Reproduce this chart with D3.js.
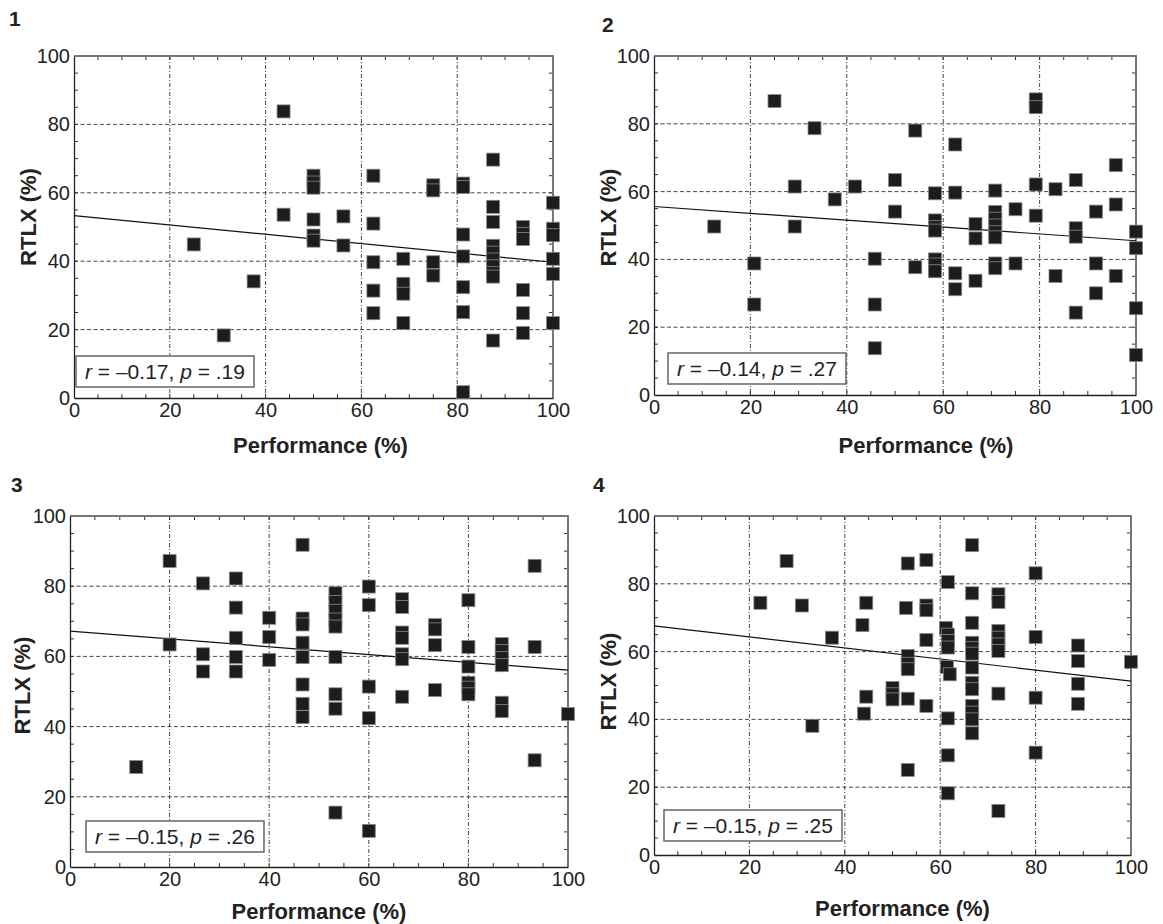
<!DOCTYPE html>
<html>
<head>
<meta charset="utf-8">
<script src="https://cdn.jsdelivr.net/npm/d3@7"></script>
<style>
body { margin: 0; background: #fff; }
svg text { font-family: "Liberation Sans", Arial, sans-serif; fill: #222; }
</style>
</head>
<body>
<svg id="chart" width="1163" height="924"></svg>
<script>
// values (Performance %, RTLX %)
var perf1 = [25, 31.25, 37.5, 43.75, 43.75, 50, 50, 50, 50, 50, 50, 56.25, 56.25,
             62.5, 62.5, 62.5, 62.5, 62.5, 68.75, 68.75, 68.75, 68.75, 75, 75, 75, 75,
             81.25, 81.25, 81.25, 81.25, 81.25, 81.25, 81.25,
             87.5, 87.5, 87.5, 87.5, 87.5, 87.5, 87.5, 87.5, 87.5, 87.5,
             93.75, 93.75, 93.75, 93.75, 93.75, 93.75,
             100, 100, 100, 100, 100, 100]
var rtlx1 = [44.9, 18.3, 34.1, 83.8, 53.6, 65, 63, 61.5, 52.2, 47.5, 46, 53.1, 44.6,
             65, 51, 39.7, 31.4, 24.8, 40.7, 33.4, 30.5, 21.9, 62.2, 60.7, 39.7, 35.8,
             62.7, 61.7, 47.8, 41.4, 32.4, 25.1, 1.7,
             69.7, 55.9, 51.5, 44.5, 42.5, 40.5, 38.5, 36.5, 35.5, 16.8,
             50, 48, 46.5, 31.6, 24.8, 19,
             57.1, 49.5, 47.6, 40.7, 36.3, 21.9]

var perf2 = [12.5, 20.8, 20.8, 25, 29.2, 29.2, 33.3, 37.5, 41.7, 45.8, 45.8, 45.8,
             50, 50, 54.2, 54.2, 58.3, 58.3, 58.3, 58.3, 58.3, 58.3, 58.3,
             62.5, 62.5, 62.5, 62.5, 66.7, 66.7, 66.7,
             70.8, 70.8, 70.8, 70.8, 70.8, 70.8, 70.8, 70.8, 75, 75,
             79.2, 79.2, 79.2, 79.2, 83.3, 83.3, 87.5, 87.5, 87.5, 87.5,
             91.7, 91.7, 91.7, 95.8, 95.8, 95.8, 100, 100, 100, 100]
var rtlx2 = [49.7, 38.8, 26.7, 86.7, 61.5, 49.7, 78.7, 57.7, 61.5, 40.2, 26.7, 13.8,
             63.4, 54.1, 78, 37.7, 59.5, 51.5, 49.5, 48.5, 40, 38.5, 36.5,
             73.9, 59.7, 35.9, 31.2, 50.4, 46.2, 33.7,
             60.3, 54, 52, 50, 48, 46.5, 38.8, 37.4, 54.8, 38.8,
             87.2, 84.9, 62.1, 52.9, 60.7, 35.1, 63.4, 49.2, 46.7, 24.3,
             54.1, 38.8, 30, 67.8, 56.2, 35.1, 48.2, 43.3, 25.6, 11.8]

var perf3 = [13.3, 20, 20, 26.7, 26.7, 26.7, 33.3, 33.3, 33.3, 33.3, 33.3, 40, 40, 40,
             46.7, 46.7, 46.7, 46.7, 46.7, 46.7, 46.7, 46.7,
             53.3, 53.3, 53.3, 53.3, 53.3, 53.3, 53.3, 53.3, 53.3,
             60, 60, 60, 60, 60, 66.7, 66.7, 66.7, 66.7, 66.7, 66.7, 66.7,
             73.3, 73.3, 73.3, 73.3, 80, 80, 80, 80, 80, 80,
             86.7, 86.7, 86.7, 86.7, 86.7, 86.7, 93.3, 93.3, 93.3, 100]
var rtlx3 = [28.5, 87.2, 63.4, 80.8, 60.6, 55.7, 82.2, 73.9, 65.3, 59.8, 55.7, 71, 65.5, 59,
             91.8, 70.8, 69.1, 63.9, 59.8, 52, 46.5, 42.7,
             78, 75.5, 73, 70.5, 68.5, 59.8, 49.2, 45.1, 15.5,
             79.9, 74.6, 51.4, 42.4, 10.3, 76.3, 74.1, 66.8, 65.3, 60.6, 59.2, 48.5,
             68.9, 67.7, 63.2, 50.4, 76, 62.7, 57.1, 52.5, 51.1, 49.2,
             63.5, 61.5, 59.5, 57.5, 46.8, 44.4, 85.8, 62.7, 30.4, 43.6]

var perf4 = [22.3, 27.8, 31, 33.2, 37.3, 43.7, 44.5, 44.5, 44, 50, 50, 50,
             52.8, 53.2, 53.2, 53.2, 53.2, 53.2, 53.2, 57.1, 57.1, 57.1, 57.1, 57.1,
             61.2, 61.6, 61.6, 61.6, 61.6, 61.4, 62, 61.6, 61.6, 61.6,
             66.7, 66.7, 66.7, 66.7, 66.7, 66.7, 66.7, 66.7, 66.7, 66.7, 66.7, 66.7, 66.7,
             72.2, 72.2, 72.2, 72.2, 72.2, 72.2, 72.2, 72.2,
             80, 80, 80, 80, 88.9, 88.9, 88.9, 88.9, 100]
var rtlx4 = [74.4, 86.7, 73.6, 38.1, 64.1, 67.8, 74.4, 46.7, 41.7, 49.3, 47.4, 45.9,
             72.9, 86, 58.7, 56.4, 54.8, 46.1, 25.1, 87, 73.6, 72.2, 63.4, 44,
             67, 80.5, 65, 63.1, 61.2, 55.5, 53.3, 40.3, 29.4, 18.2,
             91.4, 77.2, 68.5, 62.6, 61, 59.4, 55.3, 50.8, 48.9, 44, 42, 40, 35.9,
             76.9, 74.6, 66.1, 64.1, 62.1, 60.2, 47.6, 13,
             83.1, 64.3, 46.4, 30.2, 61.8, 57.2, 50.5, 44.6, 57]

// fitted line: RTLX at Performance 0 and 100
var fitStart = [53.3, 55.6, 67.2, 67.6]
var fitEnd = [39.7, 45.5, 56.1, 51.3]

var rValues = ["\u20130.17", "\u20130.14", "\u20130.15", "\u20130.15"]
var pValues = [".19", ".27", ".26", ".25"]
var panelLabels = ["1", "2", "3", "4"]
var tickLabels = [0, 20, 40, 60, 80, 100]

var perfs = [perf1, perf2, perf3, perf4]
var rtlxs = [rtlx1, rtlx2, rtlx3, rtlx4]

var layout = [
    {left: 74, right: 553, top: 56, bottom: 398, numX: 9, numY: 26, yTitleX: 28, yTitleDy: -10, xTitleDx: 7, xTitleY: 453, boxX: 76, boxY: 356},
    {left: 654, right: 1136, top: 56, bottom: 395, numX: 602, numY: 32, yTitleX: 608, yTitleDy: -8, xTitleDx: 31, xTitleY: 453, boxX: 668, boxY: 353},
    {left: 70, right: 568, top: 516, bottom: 867, numX: 11, numY: 492, yTitleX: 22, yTitleDy: -6, xTitleDx: 0, xTitleY: 919, boxX: 86, boxY: 821},
    {left: 654, right: 1131, top: 516, bottom: 855, numX: 593, numY: 492, yTitleX: 608, yTitleDy: -4, xTitleDx: 10, xTitleY: 916, boxX: 664, boxY: 810}
]

var markerSize = 13

var svg = d3.select("#chart")

svg.append("rect")
    .attr("width", 1163)
    .attr("height", 924)
    .attr("fill", "#fff")

layout.forEach(function (dim, i) {

    var xScale = d3.scaleLinear()
                   .domain([0, 100])
                   .range([dim.left, dim.right])

    var yScale = d3.scaleLinear()
                   .domain([0, 100])
                   .range([dim.bottom, dim.top])

    var g = svg.append("g")

    // grid lines at the labelled ticks
    g.selectAll(".hgrid")
        .data(tickLabels.slice(1, 5))
        .enter()
        .append("line")
        .attr("x1", dim.left)
        .attr("x2", dim.right)
        .attr("y1", function (d) { return yScale(d) })
        .attr("y2", function (d) { return yScale(d) })
        .attr("stroke", "#333")
        .attr("stroke-width", 0.9)
        .attr("stroke-dasharray", "4,2.5")

    g.selectAll(".vgrid")
        .data(tickLabels.slice(1, 5))
        .enter()
        .append("line")
        .attr("x1", function (d) { return xScale(d) })
        .attr("x2", function (d) { return xScale(d) })
        .attr("y1", dim.top)
        .attr("y2", dim.bottom)
        .attr("stroke", "#333")
        .attr("stroke-width", 0.9)
        .attr("stroke-dasharray", "4,2,1,2")

    // minor ticks every 5 units, pointing inward on all four sides
    var minor = d3.range(5, 100, 5)
    var tickLen = 4
    minor.forEach(function (v) {
        g.append("line").attr("x1", xScale(v)).attr("x2", xScale(v))
            .attr("y1", dim.bottom).attr("y2", dim.bottom - tickLen)
            .attr("stroke", "#333").attr("stroke-width", 1)
        g.append("line").attr("x1", xScale(v)).attr("x2", xScale(v))
            .attr("y1", dim.top).attr("y2", dim.top + tickLen)
            .attr("stroke", "#333").attr("stroke-width", 1)
        g.append("line").attr("x1", dim.left).attr("x2", dim.left + tickLen)
            .attr("y1", yScale(v)).attr("y2", yScale(v))
            .attr("stroke", "#333").attr("stroke-width", 1)
        g.append("line").attr("x1", dim.right).attr("x2", dim.right - tickLen)
            .attr("y1", yScale(v)).attr("y2", yScale(v))
            .attr("stroke", "#333").attr("stroke-width", 1)
    })

    // frame: lighter top/right, dark left/bottom axes
    g.append("path")
        .attr("d", "M" + dim.left + "," + dim.top + "H" + dim.right + "V" + dim.bottom)
        .attr("fill", "none")
        .attr("stroke", "#777")
        .attr("stroke-width", 2)

    var xAxis = d3.axisBottom(xScale).tickValues(tickLabels).tickSize(0).tickPadding(5)
    var gx = g.append("g")
        .attr("transform", "translate(0," + dim.bottom + ")")
        .call(xAxis)
    gx.select(".domain").attr("stroke", "#222").attr("stroke-width", 1.3)
    gx.selectAll("text")
        .attr("y", 19)
        .attr("dy", "0")
        .style("font-size", "20px")
        .attr("fill", "#222")

    var yAxis = d3.axisLeft(yScale).tickValues(tickLabels).tickSize(0).tickPadding(4)
    var gy = g.append("g")
        .attr("transform", "translate(" + dim.left + ",0)")
        .call(yAxis)
    gy.select(".domain").attr("stroke", "#222").attr("stroke-width", 1.3)
    gy.selectAll("text")
        .style("font-size", "20px")
        .attr("fill", "#222")

    // fitted regression line
    g.append("line")
        .attr("x1", xScale(0))
        .attr("y1", yScale(fitStart[i]))
        .attr("x2", xScale(100))
        .attr("y2", yScale(fitEnd[i]))
        .attr("stroke", "#111")
        .attr("stroke-width", 1.2)

    // square markers
    var points = perfs[i].map(function (p, k) { return {perf: p, rtlx: rtlxs[i][k]} })
    g.selectAll(".pt")
        .data(points)
        .enter()
        .append("rect")
        .attr("x", function (d) { return xScale(d.perf) - markerSize / 2 })
        .attr("y", function (d) { return yScale(d.rtlx) - markerSize / 2 })
        .attr("width", markerSize)
        .attr("height", markerSize)
        .attr("fill", "#1e1c1d")
        .attr("stroke", "#8a8a8a")
        .attr("stroke-width", 0.8)

    // correlation box
    var box = g.append("g").attr("transform", "translate(" + dim.boxX + "," + dim.boxY + ")")
    var boxRect = box.append("rect")
        .attr("fill", "#fff")
        .attr("stroke", "#666")
        .attr("stroke-width", 1.5)
    var label = box.append("text")
        .attr("x", 9)
        .attr("y", 23)
        .style("font-size", "21px")
    label.append("tspan").style("font-style", "italic").text("r")
    label.append("tspan").text(" = " + rValues[i] + ", ")
    label.append("tspan").style("font-style", "italic").text("p")
    label.append("tspan").text(" = " + pValues[i])
    var bb = label.node().getBBox()
    boxRect.attr("width", bb.width + 18).attr("height", 31)

    // titles
    svg.append("text")
        .attr("x", dim.numX)
        .attr("y", dim.numY)
        .style("font-size", "21px")
        .style("font-weight", "bold")
        .text(panelLabels[i])

    svg.append("text")
        .attr("transform", "translate(" + dim.yTitleX + "," + ((dim.top + dim.bottom) / 2 + dim.yTitleDy) + ") rotate(-90)")
        .attr("text-anchor", "middle")
        .attr("dy", "0.36em")
        .style("font-size", "22px")
        .style("font-weight", "bold")
        .text("RTLX (%)")

    svg.append("text")
        .attr("x", (dim.left + dim.right) / 2 + dim.xTitleDx)
        .attr("y", dim.xTitleY)
        .attr("text-anchor", "middle")
        .style("font-size", "22px")
        .style("font-weight", "bold")
        .text("Performance (%)")
})
</script>
</body>
</html>
